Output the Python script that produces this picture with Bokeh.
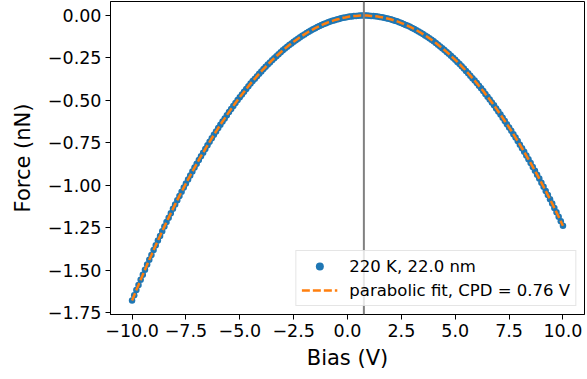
import numpy as np
from bokeh.plotting import figure
from bokeh.models import Range1d, FixedTicker, Span, Legend, LegendItem
from bokeh.embed import file_html
from bokeh.resources import INLINE

# ---- data ----
bias = np.linspace(-10.0, 10.0, 201)  # voltage sweep, 0.1 V steps
force = [
    -1.680, -1.649, -1.618, -1.588, -1.557, -1.527, -1.498, -1.468, -1.439, -1.411,
    -1.382, -1.354, -1.326, -1.299, -1.271, -1.244, -1.217, -1.191, -1.165, -1.139,
    -1.113, -1.088, -1.063, -1.039, -1.014, -0.990, -0.966, -0.943, -0.919, -0.896,
    -0.874, -0.851, -0.829, -0.808, -0.786, -0.765, -0.744, -0.723, -0.703, -0.683,
    -0.663, -0.644, -0.624, -0.606, -0.587, -0.569, -0.551, -0.533, -0.515, -0.498,
    -0.481, -0.465, -0.449, -0.433, -0.417, -0.401, -0.386, -0.372, -0.357, -0.343,
    -0.329, -0.315, -0.302, -0.289, -0.276, -0.263, -0.251, -0.239, -0.228, -0.216,
    -0.205, -0.194, -0.184, -0.174, -0.164, -0.154, -0.145, -0.136, -0.127, -0.119,
    -0.111, -0.103, -0.095, -0.088, -0.081, -0.074, -0.068, -0.062, -0.056, -0.050,
    -0.045, -0.040, -0.035, -0.031, -0.027, -0.023, -0.020, -0.016, -0.013, -0.011,
    -0.008, -0.006, -0.005, -0.003, -0.002, -0.001, -0.000, -0.000,
    -0.000, -0.000, -0.001, -0.002, -0.003, -0.004, -0.006, -0.008, -0.010, -0.013,
    -0.016, -0.019, -0.022, -0.026, -0.030, -0.034, -0.039, -0.044, -0.049, -0.055,
    -0.060, -0.066, -0.073, -0.079, -0.086, -0.094, -0.101, -0.109, -0.117, -0.125,
    -0.134, -0.143, -0.152, -0.162, -0.172, -0.182, -0.192, -0.203, -0.214, -0.225,
    -0.237, -0.249, -0.261, -0.273, -0.286, -0.299, -0.312, -0.326, -0.340, -0.354,
    -0.369, -0.383, -0.398, -0.414, -0.429, -0.445, -0.462, -0.478, -0.495, -0.512,
    -0.529, -0.547, -0.565, -0.583, -0.602, -0.621, -0.640, -0.659, -0.679, -0.699,
    -0.719, -0.740, -0.761, -0.782, -0.803, -0.825, -0.847, -0.869, -0.892, -0.915,
    -0.938, -0.961, -0.985, -1.009, -1.034, -1.058, -1.083, -1.108, -1.134, -1.160,
    -1.186, -1.212, -1.239,
]
cpd = 0.76
data_label = "220 K, 22.0 nm"
fit_label = "parabolic fit, CPD = 0.76 V"

x_ticks = [-10.0, -7.5, -5.0, -2.5, 0.0, 2.5, 5.0, 7.5, 10.0]
x_tick_labels = ["\u221210.0", "\u22127.5", "\u22125.0", "\u22122.5", "0.0", "2.5", "5.0", "7.5", "10.0"]
y_ticks = [0.0, -0.25, -0.5, -0.75, -1.0, -1.25, -1.5, -1.75]
y_tick_labels = ["0.00", "\u22120.25", "\u22120.50", "\u22120.75", "\u22121.00", "\u22121.25", "\u22121.50", "\u22121.75"]

FONT = "DejaVu Sans"

p = figure(width=587, height=379, output_backend="svg", toolbar_location=None,
           x_range=Range1d(-11.0, 11.0), y_range=Range1d(-1.762, 0.083),
           min_border_left=110, min_border_right=3, min_border_top=1, min_border_bottom=65)
p.background_fill_color = "white"
p.border_fill_color = "white"
p.outline_line_color = "black"
p.outline_line_width = 1
p.xgrid.visible = False
p.ygrid.visible = False

for ax in (p.xaxis[0], p.yaxis[0]):
    ax.axis_line_color = "black"
    ax.major_tick_line_color = "black"
    ax.major_tick_out = 5
    ax.major_tick_in = 0
    ax.minor_tick_line_color = None
    ax.major_label_text_font = FONT
    ax.major_label_text_font_size = "17.5px"
    ax.major_label_text_color = "black"
    ax.axis_label_text_font = FONT
    ax.axis_label_text_font_size = "21px"
    ax.axis_label_text_font_style = "normal"
    ax.axis_label_text_color = "black"
    ax.major_label_standoff = 4

p.xaxis.ticker = FixedTicker(ticks=x_ticks)
p.xaxis.major_label_overrides = dict(zip(x_ticks, x_tick_labels))
p.yaxis.ticker = FixedTicker(ticks=y_ticks)
p.yaxis.major_label_overrides = dict(zip(y_ticks, y_tick_labels))
p.xaxis.axis_label = "Bias (V)"
p.yaxis.axis_label = "Force (nN)"
p.xaxis.axis_label_standoff = 6
p.yaxis.axis_label_standoff = 10

pts = p.scatter(bias, force, size=6.5, color="#1f77b4", line_color=None)
fit = p.line(bias, force, line_color="#ff7f0e", line_width=2.5, line_dash="8 3")

vline = Span(location=cpd, dimension="height", line_color="gray", line_width=2)
p.add_layout(vline)

legend = Legend(items=[LegendItem(label=data_label, renderers=[pts]),
                       LegendItem(label=fit_label, renderers=[fit])],
                location="bottom_right")
legend.label_text_font = FONT
legend.label_text_font_size = "16.5px"
legend.label_text_color = "black"
legend.glyph_width = 36
legend.glyph_height = 20
legend.label_standoff = 12
legend.spacing = 4
legend.padding = 5
legend.margin = 8
legend.border_line_color = "#cccccc"
legend.border_line_width = 1
legend.background_fill_alpha = 0.8
p.add_layout(legend)

open("out.html", "w").write(file_html(p, INLINE))
